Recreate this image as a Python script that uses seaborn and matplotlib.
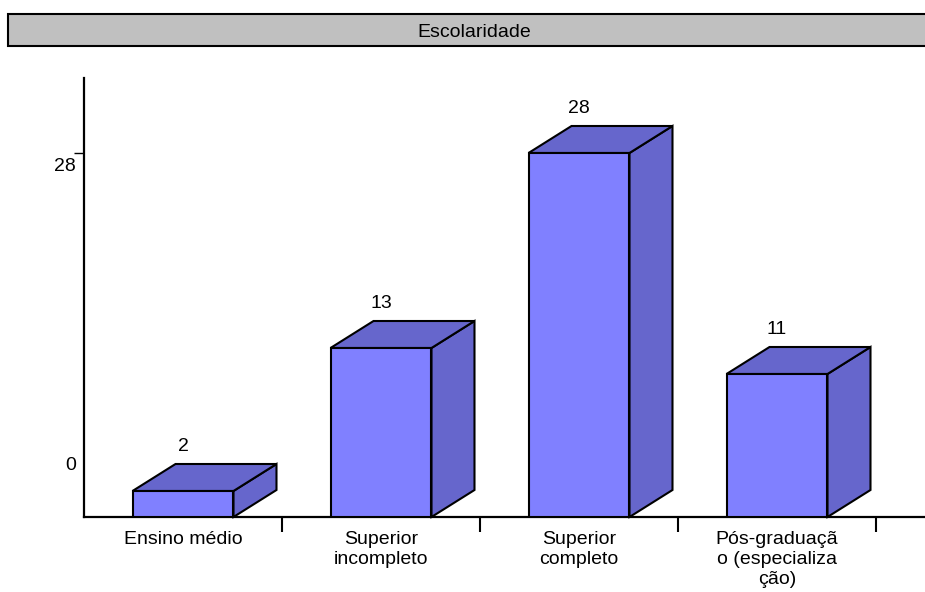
import matplotlib
matplotlib.use("Agg")
import matplotlib.pyplot as plt
from matplotlib.patches import Polygon, Rectangle
from matplotlib.transforms import blended_transform_factory
import seaborn as sns
import pandas as pd

# Data
categories = ["Ensino médio", "Superior\nincompleto", "Superior\ncompleto",
              "Pós-graduaçã\no (especializa\nção)"]
values = [2, 13, 28, 11]
title = "Escolaridade"

FRONT = "#8080FF"
SHADE = "#6666CC"
FS = 14

sns.set_theme(style="white")
plt.rcParams["font.family"] = ["Liberation Sans", "DejaVu Sans"]

W, H = 925, 592
fig = plt.figure(figsize=(W / 100, H / 100), dpi=100)
fig.patch.set_facecolor("white")

# Plot area in pixel terms
left_px, right_px, top_px, base_px = 84, 925, 78, 517
ax = fig.add_axes([left_px / W, (H - base_px) / H,
                   (right_px - left_px) / W, (base_px - top_px) / H])
ax.set_facecolor("white")

df = pd.DataFrame({"cat": categories, "val": values})
sns.barplot(data=df, x="cat", y="val", color=FRONT, saturation=1,
            width=0.51, edgecolor="black", linewidth=1.5, ax=ax, zorder=3)

unit_px = 198.0
ax.set_xlim(-0.5, -0.5 + (right_px - left_px) / unit_px)
ax.set_ylim(0, (base_px - top_px) / 13.0)

# 3D depth offsets in data units
dx = 43 / unit_px
dy = 27 / 13.0

for patch, v in zip(ax.patches, values):
    x0 = patch.get_x()
    w = patch.get_width()
    h = patch.get_height()
    side = Polygon([(x0 + w, 0), (x0 + w + dx, dy), (x0 + w + dx, h + dy), (x0 + w, h)],
                   closed=True, facecolor=SHADE, edgecolor="black", linewidth=1.5,
                   joinstyle="miter", zorder=2, clip_on=False)
    top = Polygon([(x0, h), (x0 + dx, h + dy), (x0 + w + dx, h + dy), (x0 + w, h)],
                  closed=True, facecolor=SHADE, edgecolor="black", linewidth=1.5,
                  joinstyle="miter", zorder=2, clip_on=False)
    ax.add_patch(side)
    ax.add_patch(top)
    ax.text(x0 + w / 2, h + dy + 1.0, str(v), ha="center", va="baseline",
            fontsize=FS, color="black", clip_on=False)

# Spines
sns.despine(ax=ax, top=True, right=True)
ax.spines["left"].set_linewidth(1.6)
ax.spines["bottom"].set_linewidth(1.6)
ax.spines["left"].set_color("black")
ax.spines["bottom"].set_color("black")

# x axis: labels at categories, tick marks between categories
ax.set_xticks(range(len(categories)))
ax.set_xticklabels(categories, fontsize=FS, linespacing=1.22)
ax.tick_params(axis="x", which="major", length=0, pad=10, colors="black")
ax.set_xticks([i + 0.5 for i in range(len(categories))], minor=True)
ax.tick_params(axis="x", which="minor", length=11, width=1.5, color="black",
               direction="out", bottom=True)
ax.set_xlabel("")

# y axis: single tick at the top value
ax.set_yticks([28])
ax.set_yticklabels([""])
ax.tick_params(axis="y", which="major", length=7, width=1.0, color="black",
               direction="out", left=True)
ax.set_ylabel("")
tr = blended_transform_factory(ax.transAxes, ax.transData)
ax.text(-8 / (right_px - left_px), 26.95, "28", transform=tr, ha="right",
        va="center", fontsize=FS, color="black", clip_on=False)
ax.text(-8 / (right_px - left_px), 4.0, "0", transform=tr, ha="right",
        va="center", fontsize=FS, color="black", clip_on=False)

# Title banner
fig.patches.append(Rectangle((8 / W, (H - 46) / H), (944 - 8) / W, 32 / H,
                             transform=fig.transFigure, facecolor="#C0C0C0",
                             edgecolor="black", linewidth=1.5, zorder=0))
fig.text(474 / W, (H - 37) / H, title, ha="center", va="baseline",
         fontsize=FS, color="black")

fig.savefig("out.png", dpi=100)
